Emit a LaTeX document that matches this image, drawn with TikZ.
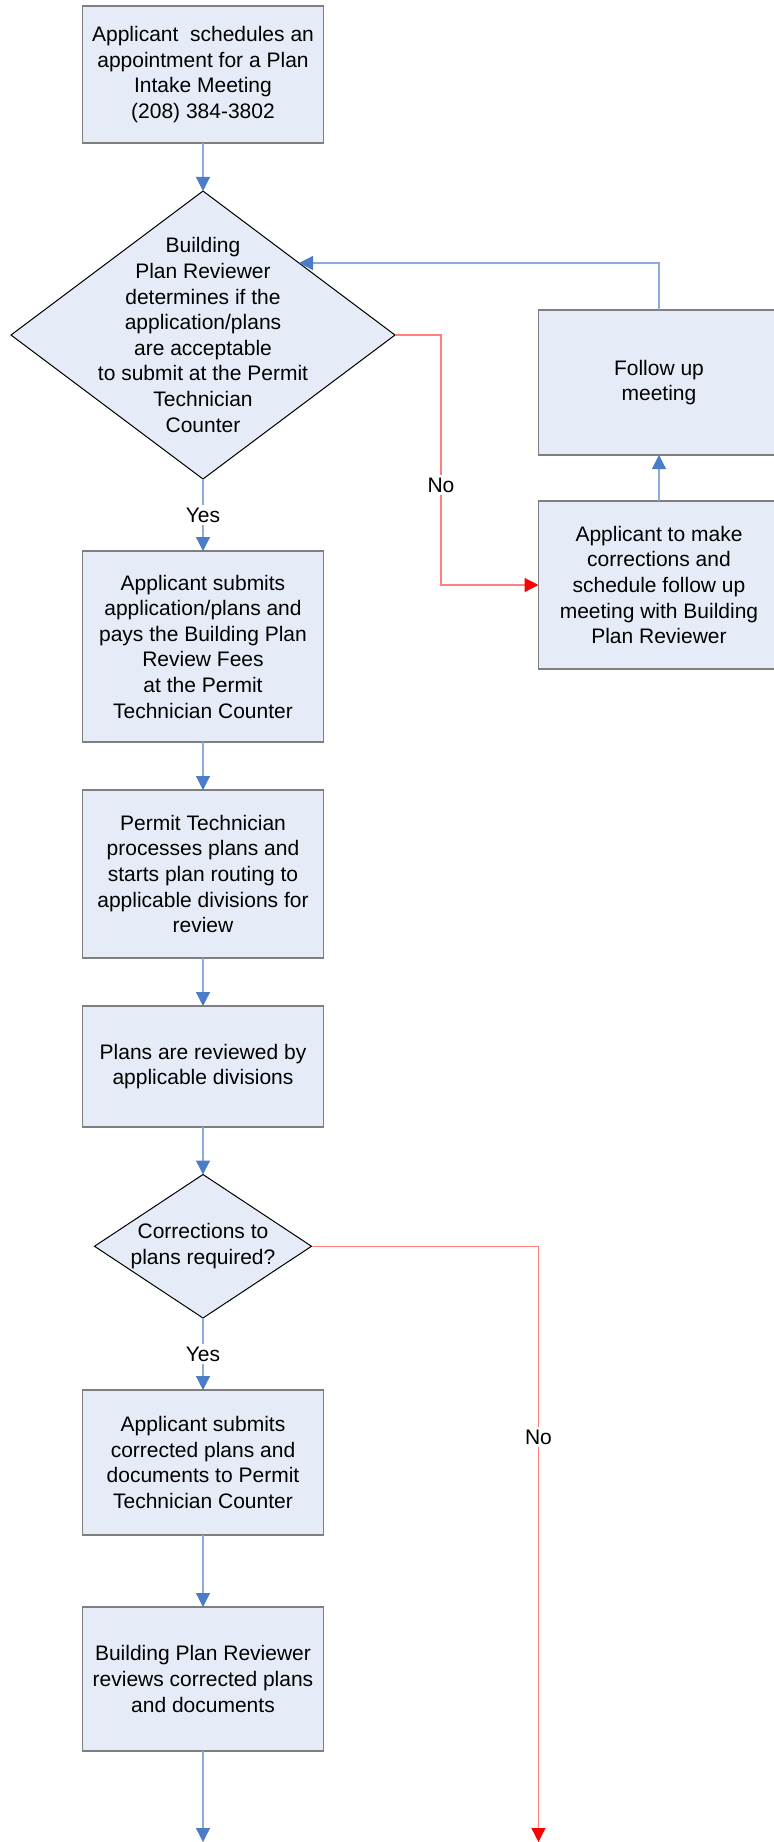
\documentclass[tikz,border=0pt]{standalone}
\usepackage{fontspec}
\setmainfont{Liberation Sans}
\usepackage{tikz}
\usetikzlibrary{positioning, shapes.geometric, arrows.meta}
\definecolor{boxfill}{HTML}{E6ECF7}
\definecolor{boxline}{HTML}{7F7F7F}
\definecolor{flowline}{HTML}{8EA9DB}
\definecolor{flowhead}{HTML}{4A7CC8}
\definecolor{noline}{HTML}{FF7F7F}
\definecolor{nohead}{HTML}{FF0000}
\tikzset{
    proc/.style={rectangle, draw=boxline, line width=0.75pt, fill=boxfill, minimum width=120.5pt, minimum height=#1, inner sep=0pt, outer sep=0pt, align=center, font=\fontsize{10.5}{12.8}\selectfont},
    proc/.default=72pt,
    dec/.style={diamond, draw=black, line width=0.5pt, fill=boxfill, inner sep=0pt, outer sep=0pt},
    txt/.style={align=center, inner sep=0pt, font=\fontsize{10.5}{12.8}\selectfont},
    lbl/.style={fill=white, inner sep=1.5pt, font=\fontsize{10.5}{12.8}\selectfont},
    flow/.style={draw=flowline, line width=0.6pt, -{Triangle[width=7pt, length=7pt, color=flowhead]}},
    nopath/.style={draw=noline, line width=0.6pt, -{Triangle[width=7pt, length=7pt, color=nohead]}},
}
\begin{document}
\begin{tikzpicture}
        \useasboundingbox (0,0) rectangle (387pt,-921pt);
        \node [proc=68.5pt] (intake) at (101.5pt,-37.25pt) {Applicant\ \ schedules an\\appointment for a Plan\\Intake Meeting\\(208) 384-3802};
        \node [dec, minimum width=192pt, minimum height=144pt] (chk) [below=24pt of intake] {};
        \node [txt] (chktext) at (chk) {Building\\Plan Reviewer\\determines if the\\application/plans\\are acceptable\\to submit at the Permit\\Technician\\Counter};
        \node [proc=95.5pt] (submit) [below=36pt of chk] {Applicant submits\\application/plans and\\pays the Building Plan\\Review Fees\\at the Permit\\Technician Counter};
        \node [proc=84pt] (route) [below=24pt of submit] {Permit Technician\\processes plans and\\starts plan routing to\\applicable divisions for\\review};
        \node [proc=60.5pt] (review) [below=24pt of route] {Plans are reviewed by\\applicable divisions};
        \node [dec, minimum width=108.5pt, minimum height=71.75pt] (fix) [below=23.75pt of review] {};
        \node [txt] (fixtext) at (fix) {Corrections to\\plans required?};
        \node [proc=72.5pt] (resubmit) [below=36pt of fix] {Applicant submits\\corrected plans and\\documents to Permit\\Technician Counter};
        \node [proc=72pt] (recheck) [below=36pt of resubmit] {Building Plan Reviewer\\reviews corrected plans\\and documents};
        \node [proc=72.5pt] (followup) at (329.5pt,-191.25pt) {Follow up\\meeting};
        \node [proc=84pt] (corr) [below=23pt of followup] {Applicant to make\\corrections and\\schedule follow up\\meeting with Building\\Plan Reviewer};
        \coordinate [below=45.5pt of recheck] (out1);
        \coordinate (out2) at (corr.west |- out1);
        \draw [flow] (intake) -- (chk);
        \draw [flow] (chk) -- node [lbl] {Yes} (submit);
        \draw [flow] (submit) -- (route);
        \draw [flow] (route) -- (review);
        \draw [flow] (review) -- (fix);
        \draw [flow] (fix) -- node [lbl] {Yes} (resubmit);
        \draw [flow] (resubmit) -- (recheck);
        \draw [flow] (recheck) -- (out1);
        \draw [flow] (corr) -- (followup);
        \draw [flow] (followup.north) |- (chk.north east);
        \draw [nopath] (chk.east) -- ++(23pt,0) |- node [lbl, pos=0.3] {No} (corr.west);
        \draw [nopath] (fix.east) -| node [lbl, pos=0.66] {No} (out2);
    \end{tikzpicture}
\end{document}
